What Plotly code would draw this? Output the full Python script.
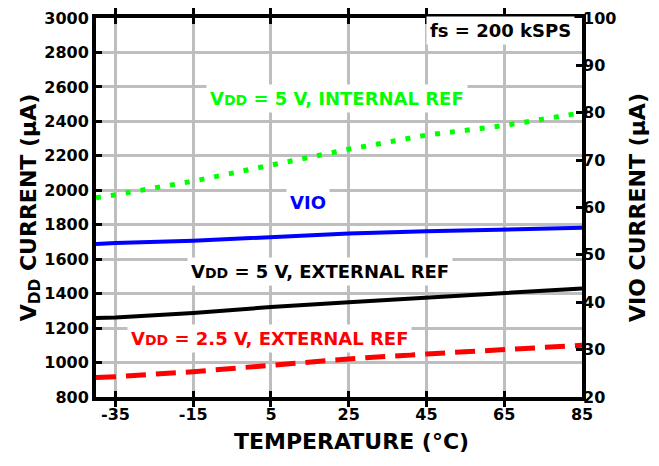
import plotly.graph_objects as go

temps = [-40, -35, -15, 5, 25, 45, 65, 85]
vdd5_int = [1957, 1974, 2053, 2144, 2238, 2320, 2376, 2450]
vdd5_ext = [1259, 1262, 1288, 1322, 1350, 1378, 1407, 1430]
vdd25_ext = [913, 918, 947, 987, 1021, 1050, 1078, 1100]
vio = [52.3, 52.5, 53.0, 53.8, 54.5, 55.0, 55.3, 55.7]

x_ticks = [-35, -15, 5, 25, 45, 65, 85]
y_ticks = list(range(800, 3001, 200))
y2_ticks = list(range(20, 101, 10))

FONT = "DejaVu Sans"

fig = go.Figure()
fig.add_trace(go.Scatter(x=temps, y=vdd5_int, mode="lines",
                         line=dict(color="#00FF00", width=5, dash="5px,10px")))
fig.add_trace(go.Scatter(x=temps, y=vdd5_ext, mode="lines",
                         line=dict(color="black", width=4)))
fig.add_trace(go.Scatter(x=temps, y=vdd25_ext, mode="lines",
                         line=dict(color="#FF0000", width=5, dash="20px,10px")))
fig.add_trace(go.Scatter(x=temps, y=vio, mode="lines", yaxis="y2",
                         line=dict(color="#0000FF", width=4)))

tickfont = dict(family=FONT, size=16, color="black")
titlefont = dict(family=FONT, size=22, color="black")

fig.update_layout(
    width=659, height=466,
    margin=dict(l=96, r=77, t=9, b=69),
    plot_bgcolor="white", paper_bgcolor="white",
    showlegend=False,
    font=dict(family=FONT, color="black"),
    xaxis=dict(range=[-40, 85], tickvals=x_ticks, ticktext=[f"<b>{v}</b>" for v in x_ticks],
               showgrid=True, gridcolor="#BEBEBE", gridwidth=3,
               showline=True, linecolor="black", linewidth=4, mirror="allticks",
               ticks="inside", ticklen=6, tickwidth=3, tickcolor="black",
               tickfont=tickfont, zeroline=False),
    yaxis=dict(range=[800, 3000], tickvals=y_ticks, ticktext=[f"<b>{v}</b>" for v in y_ticks],
               showgrid=True, gridcolor="#BEBEBE", gridwidth=3,
               showline=True, linecolor="black", linewidth=4, mirror=True,
               ticks="inside", ticklen=6, tickwidth=3, tickcolor="black",
               tickfont=tickfont, zeroline=False,
               title=dict(text="<b>V<sub>DD</sub> CURRENT (µA)</b>", font=titlefont, standoff=0)),
    yaxis2=dict(range=[20, 100], tickvals=y2_ticks, ticktext=[f"<b>{v}</b>" for v in y2_ticks],
                overlaying="y", side="right", showgrid=False,
                showline=False, ticks="inside", ticklen=6, tickwidth=3, tickcolor="black",
                tickfont=tickfont, zeroline=False,
                title=dict(text="<b>VIO CURRENT (µA)</b>", font=titlefont, standoff=14)),
)

fig.add_annotation(x=(351 - 96) / 486, y=-(443 - 397) / 388, xref="paper", yref="paper",
                   text="<b>TEMPERATURE (°C)</b>", showarrow=False, font=titlefont,
                   xanchor="center", yanchor="middle")

def label(text, x, y, color, xanchor="center"):
    fig.add_annotation(x=x, y=y, xref="x", yref="y", text=text, showarrow=False,
                       font=dict(family=FONT, size=18, color=color),
                       bgcolor="white", xanchor=xanchor, yanchor="middle", borderpad=3)

small = "<span style='font-size:14px'>DD</span>"
label(f"<b>V{small} = 5 V, INTERNAL REF</b>", 22.1, 2535, "#00FF00")
label("<b>VIO</b>", 14.4, 1930, "#0000FF")
label(f"<b>V{small} = 5 V, EXTERNAL REF</b>", 17.6, 1530, "black")
label(f"<b>V{small} = 2.5 V, EXTERNAL REF</b>", 4.75, 1140, "#FF0000")
label("<b>fs = 200 kSPS</b>", 83.2, 2925, "black", xanchor="right")

fig.write_html("out.html")
